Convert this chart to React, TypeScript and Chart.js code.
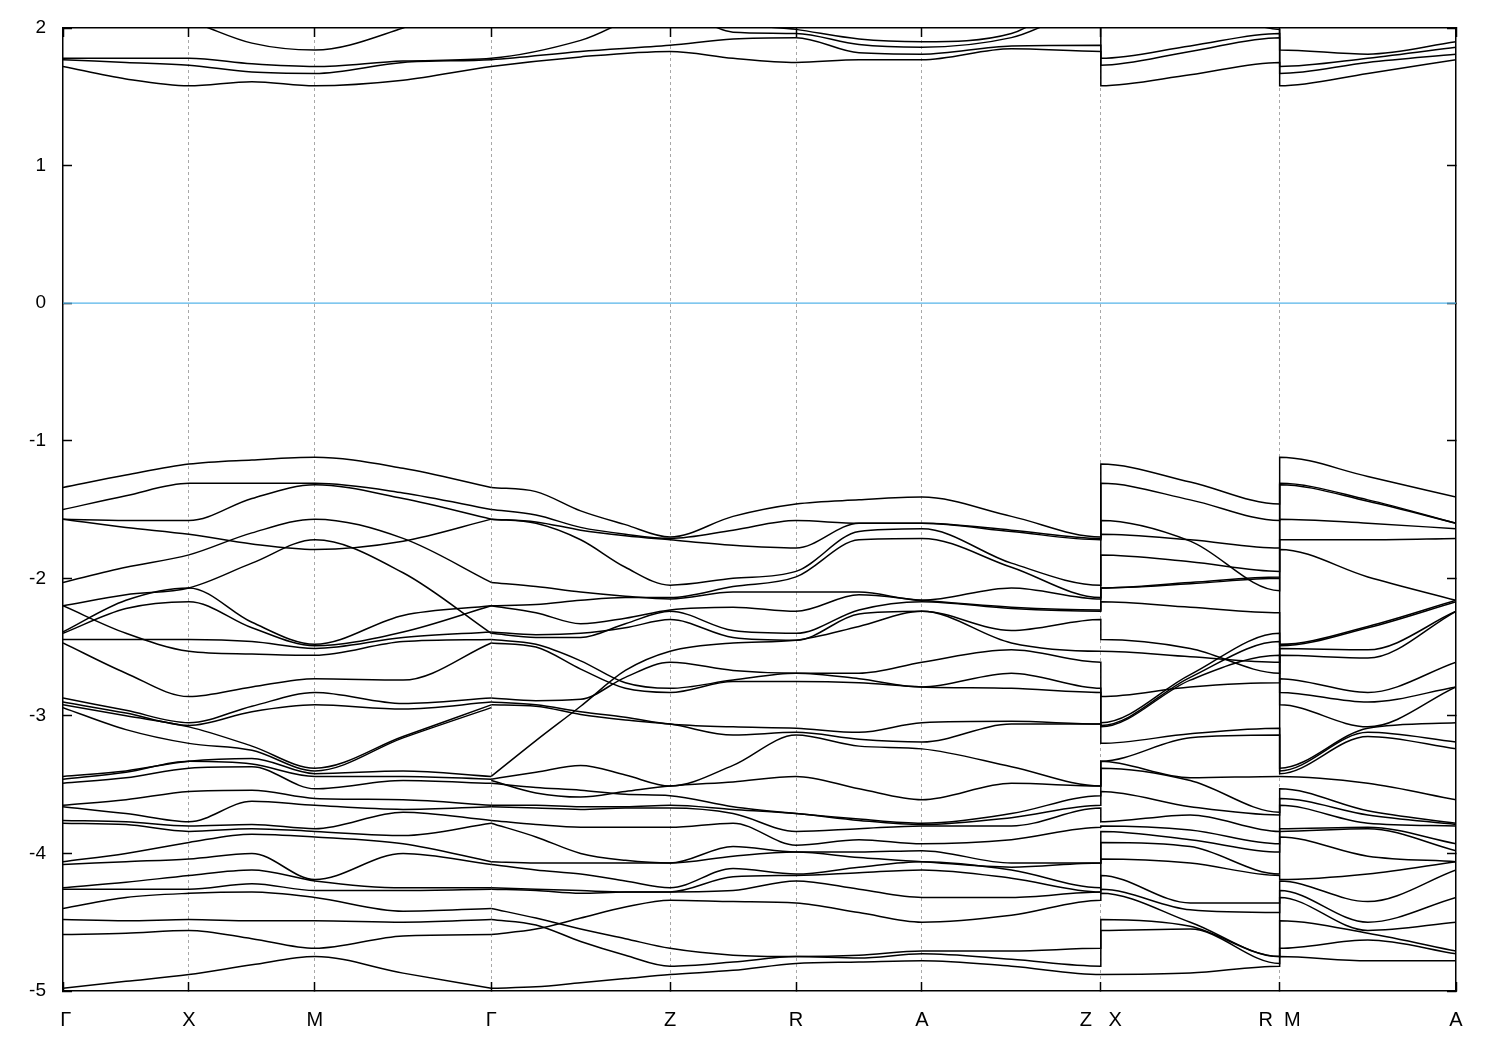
import React, { useEffect, useRef } from 'react';
import { Chart, registerables } from 'chart.js';

Chart.register(...registerables);

const FONT = '"Liberation Sans", Arial, sans-serif';

// k-path distances: Γ-X-M-Γ | Γ-Z-R-A-Z | X-R | M-A
const K_PATH_A = [0, 0.5, 1, 1.5, 2, 2.7, 3.4];
const K_PATH_B = [3.4, 3.755, 4.11, 4.465, 4.82, 5.32, 5.82, 6.32, 6.82, 7.53, 8.24, 8.24, 8.95, 9.66, 9.66, 10.36, 11.06];
const K_PATH = [0, 0.5, 1, 1.5, 2, 2.7, 3.4, 4.11, 4.82, 5.32, 5.82, 6.32, 6.82, 7.53, 8.24, 8.24, 8.95, 9.66, 9.66, 10.36, 11.06];
const K_TICKS = [0, 1, 2, 3.4, 4.82, 5.82, 6.82, 8.24, 9.66, 11.06];
const K_LABELS = [' Γ', 'X', 'M', 'Γ', 'Z', 'R', 'A', 'Z   X', 'R  M', 'A'];
const K_MAX = 11.06;
const E_MIN = -5;
const E_MAX = 2;
const FERMI_E = 0;

// valence band energies (eV) at each k column; position n in every column of a path = one band line
const V_G_0 = [-1.34, -1.50, -1.57, -1.57, -2.03, -2.20, -2.39, -2.40, -2.445, -2.20, -2.47, -2.87, -2.90, -2.92, -2.94, -3.44, -3.46, -3.49, -3.65, -3.66, -3.76, -3.78, -4.06, -4.08, -4.25, -4.26, -4.40, -4.48, -4.59, -4.98];
const V_GX = [-1.25, -1.40, -1.58, -1.63, -1.92, -2.12, -2.16, -2.22, -2.445, -2.40, -2.69, -2.96, -2.98, -3.00, -3.10, -3.40, -3.41, -3.45, -3.61, -3.71, -3.77, -3.79, -4.00, -4.06, -4.21, -4.26, -4.32, -4.49, -4.58, -4.93];
const V_X = [-1.17, -1.31, -1.58, -1.68, -1.83, -2.07, -2.07, -2.17, -2.445, -2.53, -2.86, -3.05, -3.07, -3.08, -3.20, -3.33, -3.33, -3.38, -3.55, -3.77, -3.80, -3.84, -3.92, -4.04, -4.16, -4.26, -4.29, -4.48, -4.56, -4.88];
const V_XM = [-1.14, -1.31, -1.42, -1.75, -1.67, -1.89, -2.32, -2.36, -2.46, -2.55, -2.79, -2.93, -2.97, -3.22, -3.25, -3.31, -3.35, -3.37, -3.54, -3.62, -3.79, -3.82, -3.86, -4.00, -4.12, -4.22, -4.28, -4.49, -4.62, -4.81];
const V_M_1 = [-1.12, -1.31, -1.32, -1.79, -1.57, -1.72, -2.48, -2.49, -2.51, -2.56, -2.73, -2.83, -2.92, -3.38, -3.40, -3.42, -3.44, -3.53, -3.60, -3.65, -3.82, -3.84, -3.88, -4.19, -4.20, -4.27, -4.32, -4.49, -4.69, -4.75];
const V_MG = [-1.20, -1.38, -1.42, -1.73, -1.71, -1.96, -2.27, -2.39, -2.43, -2.46, -2.74, -2.91, -2.95, -3.15, -3.16, -3.40, -3.44, -3.47, -3.61, -3.68, -3.70, -3.87, -3.93, -4.00, -4.25, -4.27, -4.42, -4.50, -4.60, -4.87];
const V_G_1 = [-1.34, -1.50, -1.57, -1.57, -2.03, -2.40, -2.20, -2.20, -2.39, -2.445, -2.47, -2.87, -2.90, -2.92, -2.94, -3.44, -3.46, -3.49, -3.65, -3.66, -3.76, -3.78, -4.06, -4.08, -4.25, -4.26, -4.40, -4.48, -4.59, -4.98];
const V_G_2 = [-1.34, -1.50, -1.57, -1.57, -2.20, -2.03, -2.20, -2.40, -2.39, -3.44, -2.87, -2.445, -2.47, -2.90, -2.92, -3.46, -3.47, -3.49, -3.65, -3.66, -3.76, -3.78, -4.06, -4.08, -4.25, -4.26, -4.59, -4.40, -4.48, -4.98];
const V_GZ1 = [-1.37, -1.54, -1.59, -1.60, -2.19, -2.06, -2.25, -2.43, -2.41, -3.18, -2.89, -2.48, -2.50, -2.92, -2.93, -3.41, -3.56, -3.52, -3.65, -3.67, -3.79, -3.88, -4.07, -4.12, -4.26, -4.27, -4.55, -4.47, -4.52, -4.97];
const V_GZ = [-1.51, -1.63, -1.65, -1.72, -2.16, -2.10, -2.33, -2.43, -2.40, -2.93, -2.88, -2.60, -2.66, -2.97, -2.99, -3.36, -3.59, -3.54, -3.66, -3.68, -3.81, -4.00, -4.07, -4.15, -4.27, -4.29, -4.47, -4.55, -4.64, -4.94];
const V_GZ3 = [-1.61, -1.68, -1.69, -1.92, -2.14, -2.13, -2.29, -2.33, -2.36, -2.67, -2.72, -2.76, -2.80, -3.01, -3.03, -3.43, -3.55, -3.57, -3.66, -3.67, -3.81, -4.05, -4.07, -4.20, -4.28, -4.28, -4.39, -4.62, -4.74, -4.91];
const V_Z = [-1.70, -1.71, -1.72, -2.05, -2.14, -2.15, -2.23, -2.24, -2.30, -2.53, -2.61, -2.80, -2.83, -3.06, -3.06, -3.51, -3.51, -3.58, -3.65, -3.67, -3.81, -4.07, -4.07, -4.25, -4.28, -4.28, -4.34, -4.69, -4.82, -4.88];
const V_ZR = [-1.55, -1.65, -1.76, -2.00, -2.06, -2.10, -2.21, -2.38, -2.43, -2.47, -2.67, -2.74, -2.75, -3.08, -3.14, -3.36, -3.48, -3.66, -3.68, -3.71, -3.78, -3.95, -4.02, -4.11, -4.17, -4.27, -4.35, -4.74, -4.79, -4.85];
const V_R = [-1.46, -1.58, -1.78, -1.95, -1.99, -2.10, -2.24, -2.40, -2.45, -2.45, -2.69, -2.69, -2.75, -3.09, -3.12, -3.14, -3.44, -3.71, -3.71, -3.84, -3.94, -3.99, -3.99, -4.15, -4.16, -4.20, -4.36, -4.75, -4.75, -4.80];
const V_RA = [-1.43, -1.60, -1.60, -1.66, -1.72, -2.10, -2.12, -2.23, -2.26, -2.35, -2.69, -2.73, -2.76, -3.12, -3.17, -3.22, -3.53, -3.75, -3.76, -3.82, -3.90, -3.99, -4.03, -4.10, -4.14, -4.26, -4.43, -4.74, -4.76, -4.79];
const V_A = [-1.41, -1.60, -1.60, -1.64, -1.71, -2.16, -2.16, -2.17, -2.24, -2.24, -2.61, -2.79, -2.79, -3.05, -3.19, -3.24, -3.61, -3.78, -3.79, -3.80, -3.93, -3.98, -4.06, -4.06, -4.12, -4.32, -4.50, -4.71, -4.73, -4.78];
const V_AZ = [-1.55, -1.65, -1.66, -1.89, -1.92, -2.07, -2.21, -2.22, -2.38, -2.47, -2.52, -2.69, -2.80, -3.04, -3.06, -3.37, -3.49, -3.71, -3.74, -3.80, -3.90, -4.07, -4.10, -4.12, -4.18, -4.32, -4.45, -4.71, -4.77, -4.82];
const V_XR = [-1.30, -1.43, -1.73, -1.72, -1.88, -2.03, -2.04, -2.21, -2.51, -2.57, -2.79, -2.70, -2.72, -2.74, -3.13, -3.16, -3.45, -3.47, -3.66, -3.72, -3.83, -3.90, -3.95, -4.07, -4.36, -4.41, -4.50, -4.53, -4.55, -4.87];
const V_R_2 = [-1.46, -1.58, -2.09, -1.78, -1.95, -1.99, -2.00, -2.25, -2.69, -2.61, -2.76, -2.40, -2.46, -2.56, -3.09, -3.14, -3.44, -3.70, -3.72, -3.84, -3.93, -3.99, -4.15, -4.16, -4.36, -4.43, -4.75, -4.75, -4.80, -4.82];
const V_M = [-1.12, -1.31, -1.32, -1.57, -1.72, -1.79, -2.48, -2.49, -2.51, -2.56, -2.73, -2.83, -2.92, -3.38, -3.40, -3.42, -3.44, -3.53, -3.60, -3.65, -3.82, -3.84, -3.88, -4.19, -4.20, -4.27, -4.32, -4.49, -4.69, -4.75];
const V_MA = [-1.26, -1.43, -1.44, -1.60, -1.72, -1.99, -2.35, -2.36, -2.52, -2.58, -2.83, -2.90, -3.08, -3.09, -3.12, -3.15, -3.49, -3.69, -3.72, -3.78, -3.81, -3.82, -4.02, -4.15, -4.35, -4.50, -4.56, -4.58, -4.63, -4.78];

// conduction band energies (eV) at each column of K_PATH
const C_G = [1.72, 1.77, 1.78, 2.25, 2.45];
const C_GX = [1.63, 1.75, 1.78, 2.15, 2.40];
const C_X = [1.58, 1.73, 1.78, 2.05, 2.30];
const C_XM = [1.61, 1.68, 1.74, 1.89, 2.30];
const C_M = [1.58, 1.67, 1.72, 1.84, 2.30];
const C_MG = [1.62, 1.75, 1.76, 2.00, 2.35];
const C_GZ = [1.79, 1.83, 1.91, 2.30, 2.50];
const C_Z = [1.83, 1.875, 2.15, 2.30, 2.50];
const C_ZR = [1.78, 1.92, 1.97, 2.05, 2.50];
const C_R = [1.75, 1.93, 1.96, 1.99, 2.50];
const C_RA = [1.77, 1.82, 1.88, 1.92, 2.50];
const C_A = [1.77, 1.81, 1.86, 1.90, 2.50];
const C_AZ = [1.85, 1.87, 1.93, 1.96, 2.50];
const C_XR = [1.66, 1.83, 1.87, 2.20, 2.40];
const C_MA = [1.67, 1.75, 1.78, 1.81, 2.40];

const VALENCE_A = [V_G_0, V_GX, V_X, V_XM, V_M_1, V_MG, V_G_1];
const VALENCE_B = [V_G_2, V_GZ1, V_GZ, V_GZ3, V_Z, V_ZR, V_R, V_RA, V_A, V_AZ, V_Z, V_X, V_XR, V_R_2, V_M, V_MA, V_A];
const CONDUCTION = [C_G, C_GX, C_X, C_XM, C_M, C_MG, C_G, C_GZ, C_Z, C_ZR, C_R, C_RA, C_A, C_AZ, C_Z, C_X, C_XR, C_R, C_M, C_MA, C_A];

function bandDatasets(k: number[], columns: number[][]) {
  return columns[0].map((_, n) => ({
    data: k.map((kv, i) => ({ x: kv, y: columns[i][n] })),
    borderColor: '#000000',
    borderWidth: 1.5,
    pointRadius: 0,
    fill: false,
    cubicInterpolationMode: 'monotone' as const,
    clip: 0,
  }));
}

export default function App() {
  const canvasRef = useRef<HTMLCanvasElement | null>(null);

  useEffect(() => {
    if (!canvasRef.current) return;
    const setTicks = (axis: any) => {
      axis.ticks = K_TICKS.map((v) => ({ value: v }));
    };
    const datasets: any[] = [
      {
        data: [
          { x: 0, y: FERMI_E },
          { x: K_MAX, y: FERMI_E },
        ],
        borderColor: '#56b4e9',
        borderWidth: 1.2,
        pointRadius: 0,
        fill: false,
        clip: 0,
      },
      ...bandDatasets(K_PATH_A, VALENCE_A),
      ...bandDatasets(K_PATH_B, VALENCE_B),
      ...bandDatasets(K_PATH, CONDUCTION),
    ];
    const chart = new Chart(canvasRef.current, {
      type: 'line',
      data: { datasets },
      options: {
        animation: false,
        responsive: true,
        maintainAspectRatio: false,
        devicePixelRatio: 1,
        events: [],
        layout: { padding: 0 },
        plugins: { legend: { display: false }, tooltip: { enabled: false } },
        scales: {
          x: {
            type: 'linear',
            position: 'bottom',
            min: 0,
            max: K_MAX,
            afterBuildTicks: setTicks,
            afterFit: (axis: any) => {
              axis.height = 59;
              axis.paddingLeft = 0;
              axis.paddingRight = 0;
            },
            ticks: {
              autoSkip: false,
              maxRotation: 0,
              padding: 26,
              color: '#000000',
              font: { family: FONT, size: 20 },
              callback: (_v: any, i: number) => K_LABELS[i],
            },
            grid: {
              drawOnChartArea: true,
              color: (ctx: any) =>
                ctx.index === 0 || ctx.index === K_TICKS.length - 1 ? 'rgba(0,0,0,0)' : '#a8a8a8',
              lineWidth: 1,
              tickLength: -9,
              tickColor: '#000000',
              tickWidth: 1.5,
            },
            border: { display: true, color: '#000000', width: 1.5, dash: [3, 3] },
          },
          x2: {
            type: 'linear',
            position: 'top',
            min: 0,
            max: K_MAX,
            afterBuildTicks: setTicks,
            afterFit: (axis: any) => {
              axis.height = 28;
              axis.paddingLeft = 0;
              axis.paddingRight = 0;
            },
            ticks: { display: false },
            grid: { drawOnChartArea: false, tickLength: -9, tickColor: '#000000', tickWidth: 1.5 },
            border: { display: true, color: '#000000', width: 1.5 },
          },
          y: {
            type: 'linear',
            position: 'left',
            min: E_MIN,
            max: E_MAX,
            afterFit: (axis: any) => {
              axis.width = 63;
              axis.paddingTop = 0;
              axis.paddingBottom = 0;
            },
            ticks: {
              stepSize: 1,
              padding: 26,
              color: '#000000',
              font: { family: FONT, size: 19 },
              callback: (v: any) => String(v),
            },
            grid: { drawOnChartArea: false, tickLength: -9, tickColor: '#000000', tickWidth: 1.5 },
            border: { display: true, color: '#000000', width: 1.5 },
          },
          y2: {
            type: 'linear',
            position: 'right',
            min: E_MIN,
            max: E_MAX,
            afterFit: (axis: any) => {
              axis.width = 44;
              axis.paddingTop = 0;
              axis.paddingBottom = 0;
            },
            ticks: { stepSize: 1, display: false },
            grid: { drawOnChartArea: false, tickLength: -9, tickColor: '#000000', tickWidth: 1.5 },
            border: { display: true, color: '#000000', width: 1.5 },
          },
        },
      } as any,
    });
    return () => chart.destroy();
  }, []);

  return (
    <div style={{ position: 'fixed', left: 0, top: 0, width: 1500, height: 1050, background: '#ffffff' }}>
      <canvas ref={canvasRef} />
    </div>
  );
}
